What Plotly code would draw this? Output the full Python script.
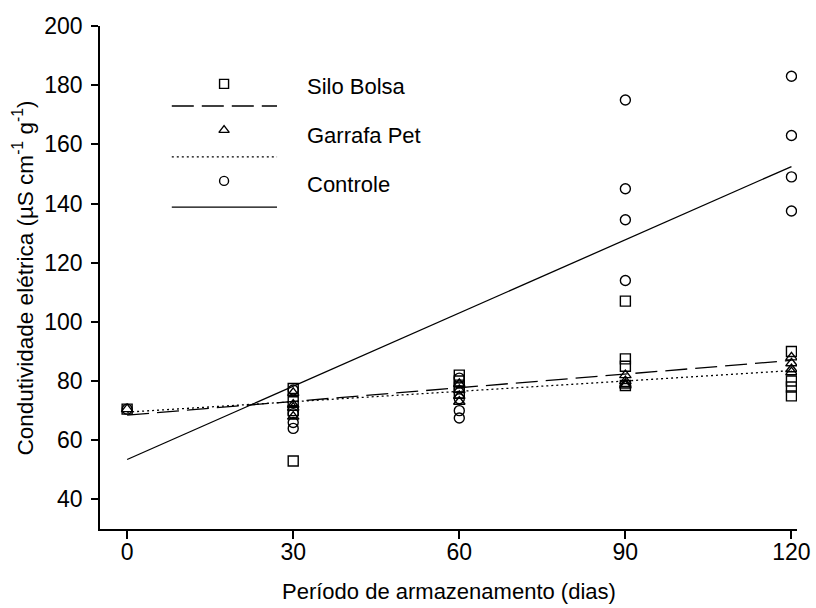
import plotly.graph_objects as go

# ---- data ----
days = [0, 30, 60, 90, 120]

silo_days = [0, 30, 30, 30, 30, 60, 60, 60, 60, 90, 90, 90, 90, 120, 120, 120, 120]
silo_vals = [70.5, 77.5, 73, 70, 53, 82, 80, 78, 76, 107, 87.5, 85, 78.5, 90, 80, 78, 75]

pet_days = [0, 30, 30, 30, 30, 60, 60, 60, 60, 90, 90, 90, 90, 120, 120, 120, 120]
pet_vals = [70.5, 76, 72, 71, 68, 79, 77, 75, 73, 82, 80, 79, 78.5, 88, 86, 84, 83]

ctrl_days = [0, 30, 30, 30, 30, 60, 60, 60, 60, 90, 90, 90, 90, 120, 120, 120, 120]
ctrl_vals = [70.5, 77, 69, 66, 64, 81, 74, 70, 67.5, 175, 145, 134.5, 114, 183, 163, 149, 137.5]

# fitted regression lines (intercept, slope)
silo_fit = (68.5, 0.154)
pet_fit = (69.5, 0.117)
ctrl_fit = (53.5, 0.825)

series_names = ["Silo Bolsa", "Garrafa Pet", "Controle"]
y_ticks = [40, 60, 80, 100, 120, 140, 160, 180, 200]

FONT = "Liberation Sans"
BLACK = "#000000"

fig = go.Figure()


def line_vals(fit):
    return [fit[0] + fit[1] * d for d in [days[0], days[-1]]]


symbols = ["square-open", "triangle-up-open", "circle-open"]
dashes = ["22px,8px", "2px,3px", "solid"]
series = [
    (silo_days, silo_vals, silo_fit),
    (pet_days, pet_vals, pet_fit),
    (ctrl_days, ctrl_vals, ctrl_fit),
]

for (xd, yd, fit), name, sym, dash in zip(series, series_names, symbols, dashes):
    fig.add_trace(go.Scatter(
        x=[days[0], days[-1]], y=line_vals(fit), mode="lines",
        line=dict(color=BLACK, width=1.3, dash=dash),
        showlegend=False, hoverinfo="skip"))
    fig.add_trace(go.Scatter(
        x=xd, y=yd, mode="markers", name=name,
        marker=dict(symbol=sym, size=10, color=BLACK,
                    line=dict(width=1.4, color=BLACK)),
        showlegend=False))

# ---- custom legend (marker above line sample, label to the right) ----
leg_marker_x = 0.178
leg_line_x0, leg_line_x1 = 0.103, 0.254
leg_text_x = 0.294
leg_marker_y = [0.885, 0.793, 0.692]
leg_text_y = [0.879, 0.783, 0.684]
leg_line_y = [0.841, 0.740, 0.640]

for i, name in enumerate(series_names):
    fig.add_trace(go.Scatter(
        x=[leg_marker_x], y=[leg_marker_y[i]], mode="markers",
        xaxis="x2", yaxis="y2", showlegend=False, hoverinfo="skip",
        marker=dict(symbol=symbols[i], size=9, color=BLACK,
                    line=dict(width=1.4, color=BLACK))))
    fig.add_trace(go.Scatter(
        x=[leg_line_x0, leg_line_x1], y=[leg_line_y[i]] * 2, mode="lines",
        xaxis="x2", yaxis="y2", showlegend=False, hoverinfo="skip",
        line=dict(color=BLACK, width=1.3, dash=dashes[i])))
    fig.add_annotation(
        x=leg_text_x, y=leg_text_y[i], xref="paper", yref="paper",
        text=name, showarrow=False, xanchor="left", yanchor="middle",
        font=dict(family=FONT, size=22, color=BLACK))

# axis titles as annotations for exact placement
fig.add_annotation(
    x=-0.1105, y=0.5, xref="paper", yref="paper",
    text="Condutividade elétrica (µS cm<sup>-1</sup> g<sup>-1</sup>)",
    textangle=-90, showarrow=False, xanchor="center", yanchor="middle",
    font=dict(family=FONT, size=22.5, color=BLACK))
fig.add_annotation(
    x=0.5, y=-0.125, xref="paper", yref="paper",
    text="Período de armazenamento (dias)",
    showarrow=False, xanchor="center", yanchor="middle",
    font=dict(family=FONT, size=22, color=BLACK))

fig.update_layout(
    width=816, height=608,
    margin=dict(l=100, r=19, t=26, b=79),
    paper_bgcolor="white", plot_bgcolor="white",
    font=dict(family=FONT, size=22, color=BLACK),
    showlegend=False,
    xaxis=dict(
        range=[-4.9, 121], tickvals=days, ticktext=[str(d) for d in days],
        automargin=False,
        showgrid=False, zeroline=False, showline=True, linecolor=BLACK, linewidth=1.5,
        ticks="outside", ticklen=8, tickwidth=1.5, tickcolor=BLACK,
        ticklabelstandoff=-6,
        tickfont=dict(family=FONT, size=23, color=BLACK),
    ),
    yaxis=dict(
        range=[30, 200], tickvals=y_ticks, ticktext=[str(v) for v in y_ticks],
        automargin=False,
        showgrid=False, zeroline=False, showline=True, linecolor=BLACK, linewidth=1.5,
        ticks="outside", ticklen=7, tickwidth=1.5, tickcolor=BLACK,
        ticklabelstandoff=4,
        tickfont=dict(family=FONT, size=23, color=BLACK),
    ),
    xaxis2=dict(overlaying="x", range=[0, 1], visible=False, fixedrange=True),
    yaxis2=dict(overlaying="y", range=[0, 1], visible=False, fixedrange=True),
)

fig.write_html("out.html")
